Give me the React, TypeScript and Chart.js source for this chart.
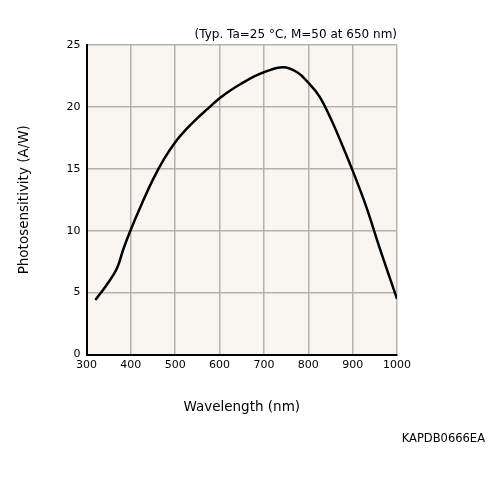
import React, { useEffect, useRef } from 'react';
import { Chart, registerables } from 'chart.js';

Chart.register(...registerables);

// wavelength (nm)
const wavelength = [320, 345, 368, 383, 400, 425, 450, 475, 500, 525, 550, 575, 600, 625, 650, 675, 700, 743, 775, 800, 825, 850, 875, 900, 930, 960, 1000];
// photosensitivity (A/W)
const sensitivity = [4.4, 5.6, 6.9, 8.5, 10.1, 12.2, 14.15, 15.8, 17.15, 18.2, 19.1, 19.9, 20.7, 21.35, 21.9, 22.4, 22.8, 23.2, 22.8, 21.95, 20.85, 19.1, 17.05, 14.85, 12.0, 8.7, 4.5];

const xTicks = [300, 400, 500, 600, 700, 800, 900, 1000];
const yTicks = [0, 5, 10, 15, 20, 25];

const conditionText = '(Typ. Ta=25 °C, M=50 at 650 nm)';
const codeText = 'KAPDB0666EA';

const FONT = '"DejaVu Sans", Verdana, sans-serif';

// background of plot area + extra texts
const decorPlugin = {
  id: 'decor',
  beforeDraw(chart: any) {
    const { ctx, chartArea } = chart;
    ctx.save();
    ctx.fillStyle = '#f7f6f0';
    ctx.fillRect(chartArea.left, chartArea.top, chartArea.right - chartArea.left, chartArea.bottom - chartArea.top);
    ctx.restore();
  },
  afterDraw(chart: any) {
    const { ctx, chartArea } = chart;
    ctx.save();
    ctx.fillStyle = '#000';
    ctx.font = '12px ' + FONT;
    ctx.textAlign = 'right';
    ctx.textBaseline = 'middle';
    ctx.fillText(conditionText, chartArea.right, 35);
    ctx.font = '11.5px ' + FONT;
    ctx.fillText(codeText, 485, 439);
    ctx.restore();
  },
};

const App: React.FC = () => {
  const canvasRef = useRef<HTMLCanvasElement | null>(null);
  const chartRef = useRef<Chart | null>(null);

  useEffect(() => {
    if (!canvasRef.current) return;
    const ctx = canvasRef.current.getContext('2d');
    if (!ctx) return;
    if (chartRef.current) chartRef.current.destroy();

    chartRef.current = new Chart(ctx, {
      type: 'line',
      data: {
        datasets: [
          {
            label: 'Photosensitivity',
            data: wavelength.map((w, i) => ({ x: w, y: sensitivity[i] })),
            borderColor: '#000',
            borderWidth: 2.5,
            pointRadius: 0,
            fill: false,
            tension: 0.4,
          },
        ],
      },
      options: {
        animation: false,
        responsive: true,
        maintainAspectRatio: false,
        layout: { padding: { left: 0, top: 45, right: 103, bottom: 80 } },
        plugins: {
          legend: { display: false },
          tooltip: { enabled: false },
        },
        scales: {
          x: {
            type: 'linear',
            min: 300,
            max: 1000,
            afterBuildTicks: (scale: any) => {
              scale.ticks = xTicks.map((v) => ({ value: v }));
            },
            afterFit: (scale: any) => {
              scale.height = 65.5;
            },
            ticks: {
              color: '#000',
              font: { family: FONT, size: 11 },
              padding: 4,
              callback: (v: any) => String(v),
            },
            grid: { color: '#b4b2aa', lineWidth: 1.5, drawTicks: false },
            border: { color: '#000', width: 2 },
            title: {
              display: true,
              text: 'Wavelength (nm)',
              color: '#000',
              font: { family: FONT, size: 13.5 },
              padding: { top: 0, bottom: 4 },
            },
          },
          y: {
            type: 'linear',
            min: 0,
            max: 25,
            afterBuildTicks: (scale: any) => {
              scale.ticks = yTicks.map((v) => ({ value: v }));
            },
            afterFit: (scale: any) => {
              scale.width = 86.5;
            },
            ticks: { color: '#000', font: { family: FONT, size: 11 }, padding: 6 },
            grid: { color: '#b4b2aa', lineWidth: 1.5, drawTicks: false },
            border: { color: '#000', width: 2 },
            title: {
              display: true,
              text: 'Photosensitivity (A/W)',
              color: '#000',
              font: { family: FONT, size: 13.5 },
              padding: { top: 16, bottom: 0 },
            },
          },
        },
      },
      plugins: [decorPlugin],
    } as any);

    return () => {
      if (chartRef.current) {
        chartRef.current.destroy();
        chartRef.current = null;
      }
    };
  }, []);

  return (
    <div style={{ position: 'fixed', left: 0, top: 0, width: '500px', height: '500px', background: '#fff' }}>
      <canvas ref={canvasRef}></canvas>
    </div>
  );
};

export default App;
